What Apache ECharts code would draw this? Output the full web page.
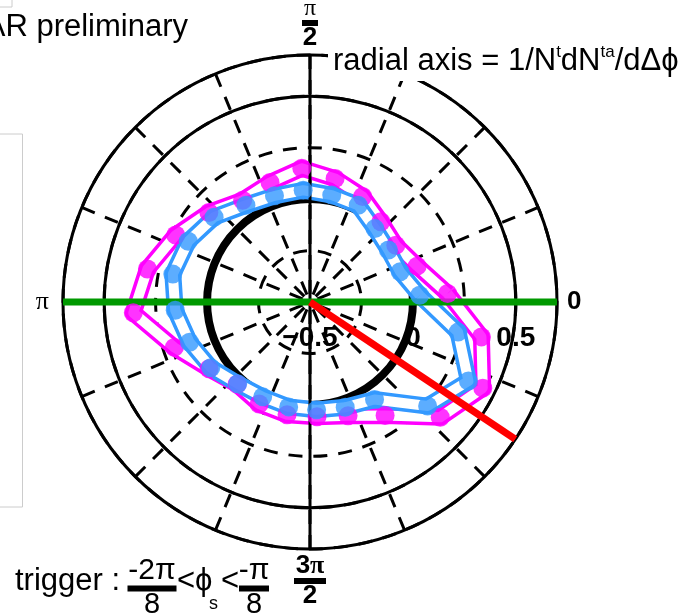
<!DOCTYPE html>
<html><head><meta charset="utf-8">
<script src="https://cdn.jsdelivr.net/npm/echarts@6/dist/echarts.min.js"></script>
<style>html,body{margin:0;padding:0;background:#fff}#chart{width:693px;height:616px}</style>
</head><body><div id="chart"></div>
<script>
// Δφ bin centres (degrees) and the per-bin yields of the two selections
const dphiDeg = [3.5, 18.5, 33.5, 48.5, 63.5, 78.5, 93.5, 108.5, 123.5, 138.5, 153.5, 168.5,
                 183.5, 198.5, 213.5, 228.5, 243.5, 258.5, 273.5, 288.5, 303.5, 318.5, 333.5, 348.5];
const magentaYield = [0.170, 0.049, 0.000, 0.020, 0.073, 0.112, 0.151, 0.112, 0.093, 0.156, 0.229, 0.306,
                      0.360, 0.195, 0.088, 0.034, 0.054, 0.059, 0.059, 0.083, 0.161, 0.345, 0.438, 0.350];
const blueYield = [0.034, -0.038, -0.043, -0.024, 0.025, 0.030, 0.044, 0.044, 0.064, 0.122, 0.161, 0.180,
                   0.156, 0.117, 0.078, 0.030, 0.015, 0.020, 0.025, 0.039, 0.068, 0.263, 0.360, 0.234];

// radial axis labels and reference levels
const radialTicks = [-0.5, 0, 0.5];
const zeroLevel = [0];
const halfLevel = [0.5];
// reference directions (degrees)
const planeAngles = [0, 180];
const verticalAngles = [90, 270];
const triggerAngles = [326.25];

const SANS = 'Liberation Sans, Arial, sans-serif';
const SERIF = 'Liberation Serif, Times New Roman, serif';

const loop = vals => dphiDeg.map((a, i) => [vals[i], a]).concat([[vals[0], dphiDeg[0]]]);
const points = vals => dphiDeg.map((a, i) => [vals[i], a]);

function ringSeries(levels, width, z) {
  return {
    type: 'custom', coordinateSystem: 'polar', silent: true, z: z,
    data: levels.map(v => [v, 0]),
    renderItem: function (params, api) {
      const c = api.coord([-0.5, 0]);
      const e = api.coord([api.value(0), 0]);
      const r = Math.hypot(e[0] - c[0], e[1] - c[1]);
      return { type: 'circle', shape: { cx: c[0], cy: c[1], r: r },
               style: { fill: null, stroke: '#000', lineWidth: width } };
    }
  };
}

function straight(r0, a0, r1, a1, color, width, z) {
  return {
    type: 'line', coordinateSystem: 'polar', silent: true, clip: false, z: z,
    data: [[r0, a0], [r1, a1]], showSymbol: false, symbol: 'none',
    lineStyle: { color: color, width: width, cap: 'butt' }
  };
}

function band(vals, color) {
  return [
    { type: 'line', coordinateSystem: 'polar', silent: true, z: 3, data: loop(vals),
      showSymbol: false, symbol: 'none', lineStyle: { color: color, width: 17, join: 'round' } },
    { type: 'line', coordinateSystem: 'polar', silent: true, z: 3, data: loop(vals),
      showSymbol: false, symbol: 'none', lineStyle: { color: '#fff', width: 10, join: 'round' } }
  ];
}

function markers(vals, color) {
  return { type: 'scatter', coordinateSystem: 'polar', silent: true, z: 5, data: points(vals),
           symbol: 'circle', symbolSize: 19, itemStyle: { color: color } };
}

const angleLabelText = {
  0: '{zero|0}',
  90: '{pi|π}\n{bar| }\n{den|2}',
  180: '{piL|π}',
  270: '{num3|3}{numPi|π}\n{bar3| }\n{den|2}'
};

const chart = echarts.init(document.getElementById('chart'), null, { renderer: 'canvas' });
chart.setOption({
  animation: false,
  backgroundColor: '#fff',
  polar: { center: [310, 302], radius: 247 },
  angleAxis: {
    type: 'value', min: 0, max: 360, interval: 22.5, startAngle: 0, clockwise: false,
    axisLine: { show: true, lineStyle: { color: '#000', width: 3 } },
    axisTick: { show: false },
    splitLine: { show: true, lineStyle: { color: '#000', width: 3, type: [14, 11] } },
    axisLabel: {
      show: true, margin: 6, color: '#000',
      formatter: v => angleLabelText[v] || '',
      rich: {
        zero: { fontFamily: SANS, fontWeight: 'bold', fontSize: 26, padding: [0, 0, 0, 4] },
        pi: { fontFamily: SERIF, fontSize: 24, lineHeight: 20, align: 'center' },
        bar: { backgroundColor: '#000', width: 16, height: 6, lineHeight: 8, fontSize: 4, align: 'center' },
        bar3: { backgroundColor: '#000', width: 32, height: 6, lineHeight: 8, fontSize: 4, align: 'center' },
        den: { fontFamily: SANS, fontWeight: 'bold', fontSize: 26, lineHeight: 22, align: 'center' },
        num3: { fontFamily: SANS, fontWeight: 'bold', fontSize: 26, lineHeight: 22, align: 'center' },
        numPi: { fontFamily: SERIF, fontWeight: 'bold', fontSize: 26, lineHeight: 22, align: 'center' },
        piL: { fontFamily: SERIF, fontSize: 26, padding: [0, 8, 0, 0] }
      }
    }
  },
  radiusAxis: {
    type: 'value', min: -0.5, max: 0.7, interval: 0.25,
    axisLine: { show: false }, axisTick: { show: false },
    splitLine: { show: true, lineStyle: { color: '#000', width: 3, type: [14, 11] } },
    axisLabel: {
      show: true, customValues: radialTicks, margin: -50, color: '#000',
      fontFamily: SANS, fontWeight: 'bold', fontSize: 28,
      formatter: v => (v < 0 ? '\u2212' + Math.abs(v) : String(v))
    }
  },
  series: [
    ringSeries(zeroLevel, 8, 2),
    ringSeries(halfLevel, 3, 2),
    ...band(magentaYield, '#ff00ff'),
    ...band(blueYield, '#3399ff'),
    // axes through the centre, event plane and trigger direction
    straight(0.72, planeAngles[0], 0.72, planeAngles[1], '#000', 2.5, 4),
    straight(0.73, verticalAngles[0], 0.73, verticalAngles[1], '#000', 3, 4),
    straight(0.7, planeAngles[0], 0.7, planeAngles[1], '#009900', 7, 4),
    straight(-0.5, triggerAngles[0], 0.7, triggerAngles[0], '#ff0000', 7, 4),
    markers(magentaYield, '#ff00ff'),
    markers(blueYield, '#3399ff')
  ],
  graphic: [
    { type: 'rect', z: 100, silent: true, shape: { x: -1, y: 134, width: 23.5, height: 373 },
      style: { fill: null, stroke: '#cccccc', lineWidth: 1 } },
    { type: 'rect', z: 100, silent: true, shape: { x: -1, y: -1, width: 13, height: 8 },
      style: { fill: null, stroke: '#cccccc', lineWidth: 1 } },
    { type: 'text', z: 100, silent: true, x: 188, y: 27,
      style: { text: 'STAR preliminary', fill: '#000', font: '31px ' + SANS, align: 'right', verticalAlign: 'middle' } },
    { type: 'rect', z: 100, silent: true, shape: { x: 328, y: 36, width: 370, height: 45 },
      style: { fill: '#fff' } },
    { type: 'text', z: 101, silent: true, x: 333, y: 61,
      style: {
        text: '{m|radial axis = 1/N}{s|t}{m|dN}{s|ta}{m|/dΔ\u03D5}', align: 'left', verticalAlign: 'middle',
        rich: {
          m: { fontFamily: SANS, fontSize: 31, lineHeight: 34, verticalAlign: 'middle', fill: '#000' },
          s: { fontFamily: SANS, fontSize: 17, lineHeight: 34, verticalAlign: 'top', fill: '#000' }
        }
      } },
    { type: 'text', z: 100, silent: true, x: 15, y: 581,
      style: { text: 'trigger :', fill: '#000', font: '31px ' + SANS, align: 'left', verticalAlign: 'middle' } },
    { type: 'text', z: 100, silent: true, x: 152, y: 558,
      style: {
        text: '{n|-2π}\n{b| }\n{d|8}', align: 'center', verticalAlign: 'top',
        rich: {
          n: { fontFamily: SANS, fontSize: 30, lineHeight: 26, align: 'center', fill: '#000' },
          b: { backgroundColor: '#000', width: 49, height: 6, lineHeight: 9, fontSize: 4, align: 'center' },
          d: { fontFamily: SANS, fontSize: 29, lineHeight: 24, align: 'center', fill: '#000' }
        }
      } },
    { type: 'text', z: 100, silent: true, x: 177, y: 581,
      style: { text: '<\u03D5', fill: '#000', font: '31px ' + SANS, align: 'left', verticalAlign: 'middle' } },
    { type: 'text', z: 100, silent: true, x: 209, y: 604,
      style: { text: 's', fill: '#000', font: '18px ' + SANS, align: 'left', verticalAlign: 'middle' } },
    { type: 'text', z: 100, silent: true, x: 221, y: 581,
      style: { text: '<', fill: '#000', font: '31px ' + SANS, align: 'left', verticalAlign: 'middle' } },
    { type: 'text', z: 100, silent: true, x: 254, y: 558,
      style: {
        text: '{n|-π}\n{b| }\n{d|8}', align: 'center', verticalAlign: 'top',
        rich: {
          n: { fontFamily: SANS, fontSize: 30, lineHeight: 26, align: 'center', fill: '#000' },
          b: { backgroundColor: '#000', width: 30, height: 6, lineHeight: 9, fontSize: 4, align: 'center' },
          d: { fontFamily: SANS, fontSize: 29, lineHeight: 24, align: 'center', fill: '#000' }
        }
      } }
  ]
});
</script>
</body></html>
